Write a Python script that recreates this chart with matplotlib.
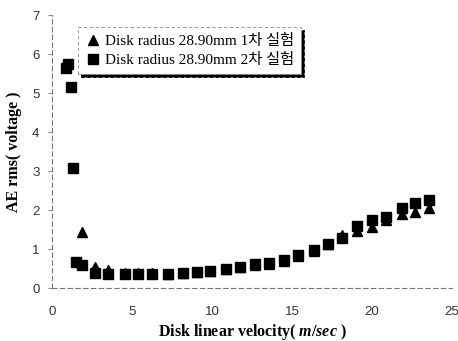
import matplotlib
matplotlib.use("Agg")
import matplotlib.pyplot as plt

plt.rcParams['mathtext.fontset'] = 'custom'
plt.rcParams['mathtext.it'] = 'Liberation Serif:italic:bold'
plt.rcParams['mathtext.rm'] = 'Liberation Serif:bold'

# series 1 (1st test, triangles)
vel_1 = [1.85, 2.7, 3.5, 4.55, 5.4, 6.25, 7.25, 8.2, 9.05, 9.9, 10.9, 11.75,
         12.7, 13.55, 14.5, 15.4, 16.4, 17.25, 18.1, 19.05, 20.0, 20.9,
         21.9, 22.7, 23.55]
ae_1 = [1.44, 0.55, 0.46, 0.38, 0.38, 0.38, 0.35, 0.38, 0.41, 0.44, 0.48, 0.53,
        0.6, 0.63, 0.7, 0.82, 0.95, 1.12, 1.35, 1.46, 1.56, 1.74,
        1.9, 1.95, 2.05]

# series 2 (2nd test, squares)
vel_2 = [0.9, 1.0, 1.2, 1.3, 1.5, 1.85, 2.7, 3.5, 4.55, 5.4, 6.25, 7.25, 8.2,
         9.05, 9.9, 10.9, 11.75, 12.7, 13.55, 14.5, 15.4, 16.4, 17.25, 18.1,
         19.05, 20.0, 20.9, 21.9, 22.7, 23.55]
ae_2 = [5.65, 5.74, 5.15, 3.08, 0.67, 0.6, 0.4, 0.36, 0.37, 0.37, 0.37, 0.35,
        0.4, 0.42, 0.44, 0.49, 0.54, 0.62, 0.64, 0.72, 0.85, 0.98, 1.13, 1.28,
        1.6, 1.74, 1.82, 2.05, 2.18, 2.25]

labels = ['Disk radius 28.90mm 1차 실험', 'Disk radius 28.90mm 2차 실험']
serif_kr = ['Liberation Serif', 'Noto Sans CJK KR']

fig = plt.figure(figsize=(4.58, 3.41), dpi=100)
ax = fig.add_axes([0.1135, 0.155, 0.8735, 0.801])

ax.plot(vel_1, ae_1, '^', color='black', ms=7.5, label=labels[0], zorder=3)
ax.plot(vel_2, ae_2, 's', color='black', ms=7, label=labels[1], zorder=2)

ax.set_xlim(0, 25)
ax.set_ylim(0, 7)
ax.set_xticks(range(0, 26, 5))
ax.set_yticks(range(0, 8))

for side in ['top', 'right']:
    ax.spines[side].set_visible(False)
for side in ['left', 'bottom']:
    ax.spines[side].set_linestyle((0, (4, 3)))
    ax.spines[side].set_color('#777777')
    ax.spines[side].set_linewidth(0.8)

ax.tick_params(axis='x', length=0, pad=13, labelsize=9.5, labelcolor='#333333')
ax.tick_params(axis='y', length=3, width=0.6, color='#777777', pad=6,
               labelsize=9.5, labelcolor='#333333')
for lbl in ax.get_xticklabels() + ax.get_yticklabels():
    lbl.set_fontfamily('Liberation Sans')

ax.set_xlabel('Disk linear velocity( $\\mathit{m/sec}$ )', family='Liberation Serif',
              fontweight='bold', fontsize=11.5, labelpad=3)
ax.set_ylabel('AE rms( voltage )', family='Liberation Serif',
              fontweight='bold', fontsize=11.5, labelpad=7)

leg = ax.legend(loc='upper left', bbox_to_anchor=(0.065, 0.955),
                prop={'family': serif_kr, 'size': 11}, frameon=True,
                fancybox=False, shadow={'color': 'black', 'alpha': 1},
                handletextpad=0.35, handlelength=1.0, borderpad=0.45,
                labelspacing=0.3, borderaxespad=0)
leg.get_frame().set_edgecolor('#888888')
leg.get_frame().set_linestyle((0, (4, 3)))
leg.get_frame().set_linewidth(0.6)

fig.savefig('out.png', dpi=100)
